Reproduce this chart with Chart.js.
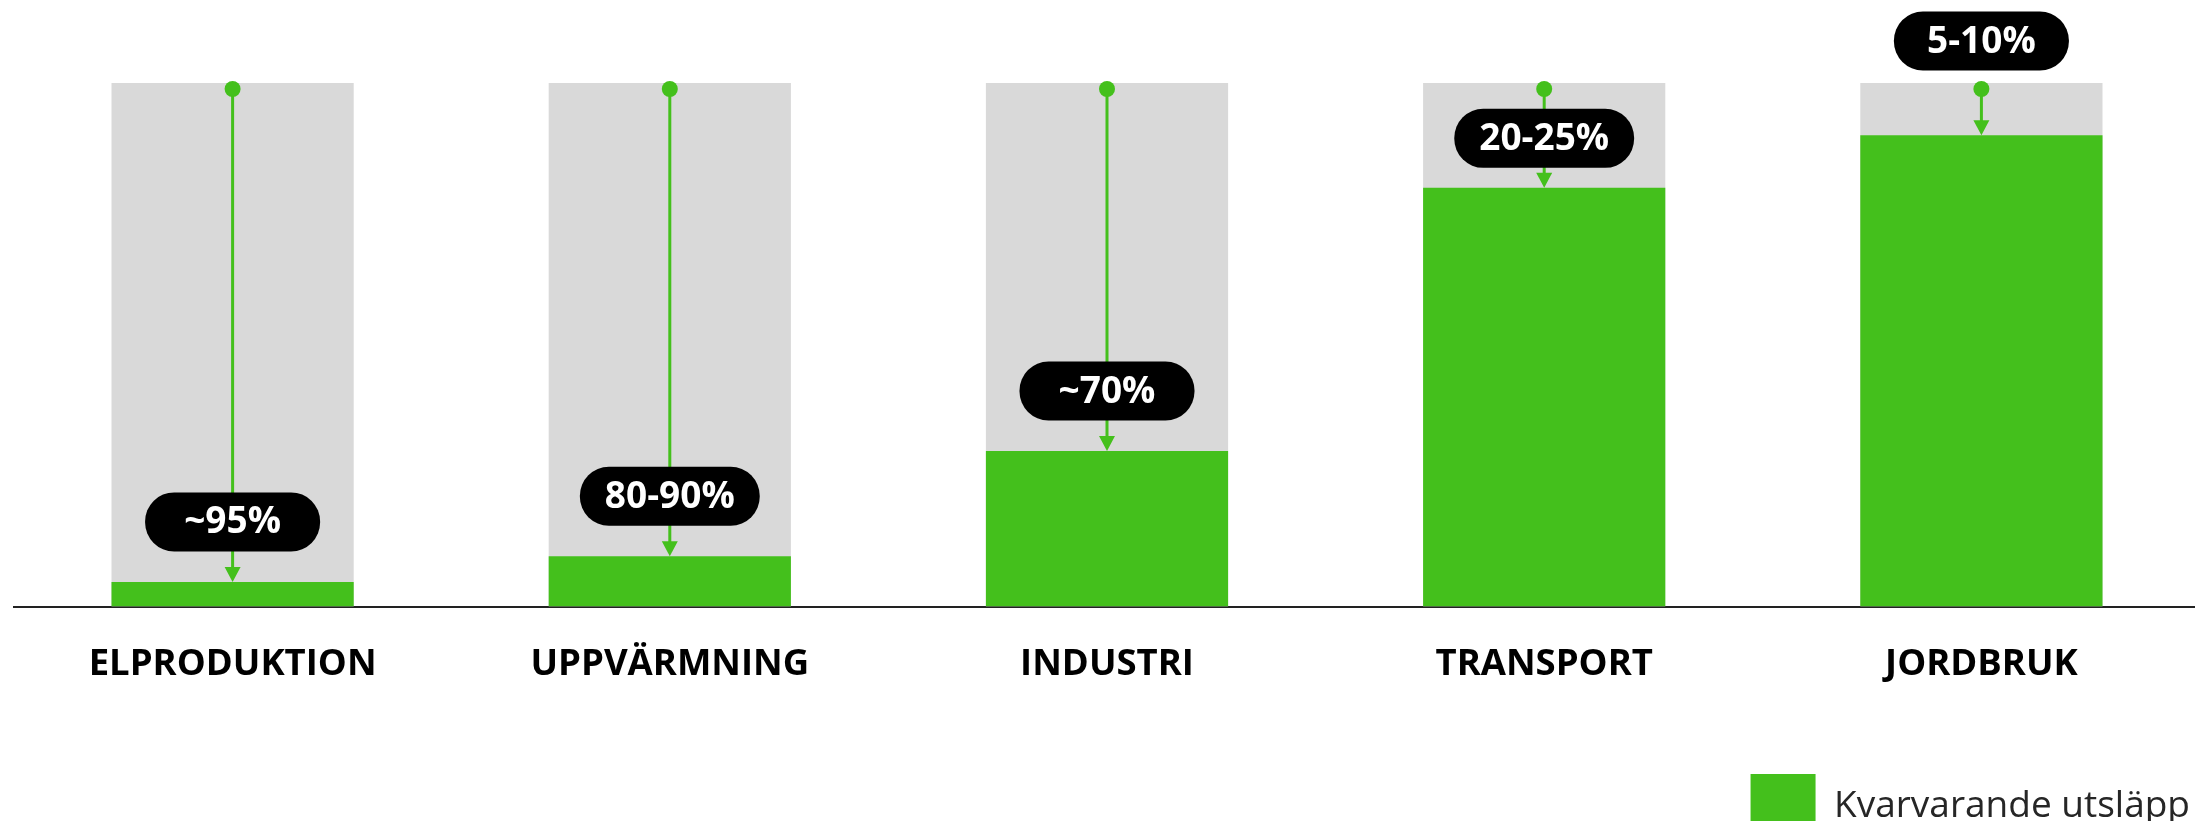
<!DOCTYPE html>
<html lang="sv">
<head>
<meta charset="utf-8">
<title>Kvarvarande utsläpp per sektor</title>
<script src="https://cdn.jsdelivr.net/npm/chart.js@4.4.1/dist/chart.umd.min.js"></script>
<style>
    html, body { margin: 0; padding: 0; background: #fff; overflow: hidden; }
    #wrap { width: 2200px; height: 849px; }
</style>
</head>
<body>
<div id="wrap"><canvas id="reductionChart" width="2200" height="849"></canvas></div>
<script>
const categories = ["ELPRODUKTION", "UPPVÄRMNING", "INDUSTRI", "TRANSPORT", "JORDBRUK"];
const totalLevel = [100, 100, 100, 100, 100];
const remaining = [4.7, 9.6, 29.7, 80, 90];
const reductionLabels = ["~95%", "80-90%", "~70%", "20-25%", "5-10%"];
const legendLabel = "Kvarvarande utsläpp";

const GREEN = "#44C01C";
const GRAY = "#D9D9D9";
const FONT = "'Open Sans', 'Noto Sans', sans-serif";

// ======================
// Arrow from full level down to remaining level, with black pill label
// ======================
const reductionArrows = {
    id: "reductionArrows",
    afterDatasetsDraw(chart) {
        const ctx = chart.ctx;
        const greenMeta = chart.getDatasetMeta(0);
        const grayMeta = chart.getDatasetMeta(1);
        ctx.save();
        greenMeta.data.forEach((bar, i) => {
            const x = bar.x;
            const greenTop = bar.y;
            const grayTop = grayMeta.data[i].y;
            const dotY = grayTop + 6;

            ctx.strokeStyle = GREEN;
            ctx.fillStyle = GREEN;
            ctx.lineWidth = 3;
            ctx.beginPath();
            ctx.moveTo(x, dotY);
            ctx.lineTo(x, greenTop - 14);
            ctx.stroke();

            ctx.beginPath();
            ctx.moveTo(x - 8, greenTop - 15);
            ctx.lineTo(x + 8, greenTop - 15);
            ctx.lineTo(x, greenTop);
            ctx.closePath();
            ctx.fill();

            ctx.beginPath();
            ctx.arc(x, dotY, 8, 0, Math.PI * 2);
            ctx.fill();

            // pill sits above the bar when the arrow is too short
            const gap = greenTop - dotY;
            const cy = gap < 80 ? grayTop - 42 : greenTop - Math.min(60, gap / 2);
            ctx.font = "bold 37px " + FONT;
            const w = Math.max(ctx.measureText(reductionLabels[i]).width + 50, 175);
            const h = 59;
            ctx.fillStyle = "#000";
            ctx.beginPath();
            ctx.roundRect(x - w / 2, cy - h / 2, w, h, 29);
            ctx.fill();
            ctx.fillStyle = "#fff";
            ctx.textAlign = "center";
            ctx.textBaseline = "middle";
            ctx.fillText(reductionLabels[i], x, cy + 1);
        });
        ctx.restore();
    }
};

new Chart(document.getElementById("reductionChart").getContext("2d"), {
    type: "bar",
    data: {
        labels: categories,
        datasets: [
            {
                label: legendLabel,
                data: remaining,
                backgroundColor: GREEN,
                grouped: false,
                barPercentage: 0.554,
                categoryPercentage: 1
            },
            {
                label: "Total",
                data: totalLevel,
                backgroundColor: GRAY,
                grouped: false,
                barPercentage: 0.554,
                categoryPercentage: 1
            }
        ]
    },
    options: {
        responsive: false,
        animation: false,
        layout: { padding: { top: 83, left: 14, right: 0, bottom: 0 } },
        plugins: {
            tooltip: { enabled: false },
            legend: {
                position: "bottom",
                align: "end",
                labels: {
                    filter: item => item.datasetIndex === 0,
                    boxWidth: 65,
                    boxHeight: 65,
                    padding: 10,
                    color: "#262626",
                    font: { family: FONT, size: 37 }
                }
            }
        },
        scales: {
            x: {
                grid: { display: false, drawTicks: false },
                border: { display: true, color: "#222", width: 2 },
                ticks: {
                    color: "#000",
                    padding: 36,
                    font: { family: FONT, size: 36.5, weight: "bold" }
                },
                afterFit: scale => { scale.height = 157.5; }
            },
            y: { display: false, min: 0, max: 100 }
        }
    },
    plugins: [reductionArrows]
});
</script>
</body>
</html>
